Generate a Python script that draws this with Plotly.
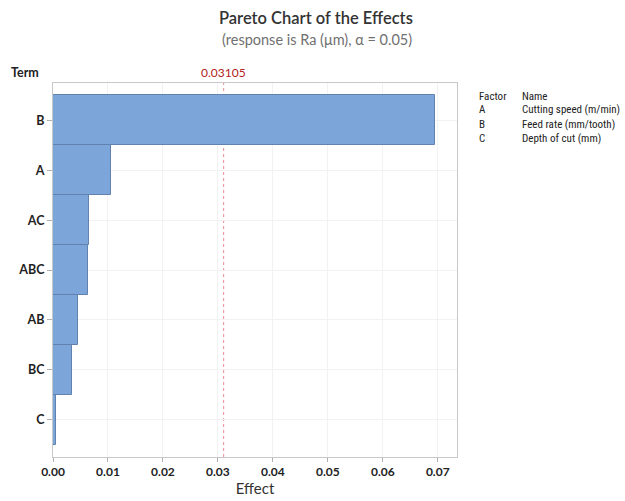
import plotly.graph_objects as go

terms = ["B", "A", "AC", "ABC", "AB", "BC", "C"]
effects = [0.0695, 0.0105, 0.0065, 0.0064, 0.0045, 0.0035, 0.0005]
ref_value = 0.03105
x_ticks = [0.00, 0.01, 0.02, 0.03, 0.04, 0.05, 0.06, 0.07]
factor_codes = ["A", "B", "C"]
factor_names = ["Cutting speed (m/min)", "Feed rate (mm/tooth)", "Depth of cut (mm)"]

FONT = "Lato"
NARROW = "Liberation Sans Narrow, Roboto Condensed, Roboto"
W, H = 625, 501
L, R, T, B = 53, 168, 83, 44
pw, ph = W - L - R, H - T - B


def px(x):
    return (x - L) / pw


def py(y):
    return (H - B - y) / ph


fig = go.Figure()
fig.add_trace(go.Bar(
    x=effects, y=terms, orientation="h", width=1.0,
    marker=dict(color="#7CA5D9", line=dict(color="#6282AD", width=1)),
    hoverinfo="x+y",
))

fig.add_shape(type="line", xref="x", yref="paper", x0=ref_value, x1=ref_value, y0=0, y1=1,
              line=dict(color="#EE8A94", width=1, dash="dot"), layer="below")
fig.add_annotation(x=ref_value, y=py(73), xref="x", yref="paper", yanchor="middle",
                   text=f"{ref_value:.5f}", showarrow=False,
                   font=dict(family=FONT, size=12, color="#B22222"))

fig.add_annotation(x=px(316), y=py(18), xref="paper", yref="paper", yanchor="middle", xanchor="center",
                   text="Pareto Chart of the Effects", showarrow=False,
                   font=dict(family=FONT, size=16.5, color="#333333", weight=600))
fig.add_annotation(x=px(317), y=py(40), xref="paper", yref="paper", yanchor="middle", xanchor="center",
                   text="(response is Ra (μm), α = 0.05)", showarrow=False,
                   font=dict(family=FONT, size=14.5, color="#707070"))
fig.add_annotation(x=px(25), y=py(72), xref="paper", yref="paper", xanchor="center", yanchor="middle",
                   text="Term", showarrow=False,
                   font=dict(family=FONT, size=12.5, color="#222222", weight=700))

rows = [("Factor", "Name")] + list(zip(factor_codes, factor_names))
for i, (c, n) in enumerate(rows):
    yy = py(96 + i * 14)
    fig.add_annotation(x=px(477), y=yy, xref="paper", yref="paper", text=c, showarrow=False,
                       xanchor="left", yanchor="middle",
                       font=dict(family=NARROW, size=11, color="#222222"))
    fig.add_annotation(x=px(520), y=yy, xref="paper", yref="paper", text=n, showarrow=False,
                       xanchor="left", yanchor="middle",
                       font=dict(family=NARROW, size=11, color="#222222"))

fig.update_layout(
    width=W, height=H,
    margin=dict(l=L, r=R, t=T, b=B, autoexpand=False),
    paper_bgcolor="white", plot_bgcolor="white",
    showlegend=False,
    bargap=0,
    font=dict(family=FONT, color="#222222"),
    xaxis=dict(range=[0, 0.0735], tickvals=x_ticks, ticktext=[f"{v:.2f}" for v in x_ticks],
               automargin=False,
               showgrid=True, gridcolor="#F2F2F2", zeroline=False,
               showline=True, linecolor="#C8C8C8", mirror=True,
               ticks="outside", ticklen=4, tickcolor="#B0B0B0",
               tickfont=dict(family=FONT, size=12, color="#222222", weight=700),
               title=dict(text="Effect", font=dict(family=FONT, size=15, color="#333333"), standoff=4)),
    yaxis=dict(range=[6.75, -0.75], categoryorder="array", categoryarray=terms, type="category",
               automargin=False,
               showgrid=True, gridcolor="#F2F2F2", zeroline=False,
               showline=True, linecolor="#C8C8C8", mirror=True,
               ticks="outside", ticklen=5, tickcolor="#B0B0B0",
               tickfont=dict(family=FONT, size=12.5, color="#222222", weight=700)),
)

fig.write_html("out.html", config={"displayModeBar": False},
               post_script="document.body.style.margin='0';document.body.style.overflow='hidden';")
